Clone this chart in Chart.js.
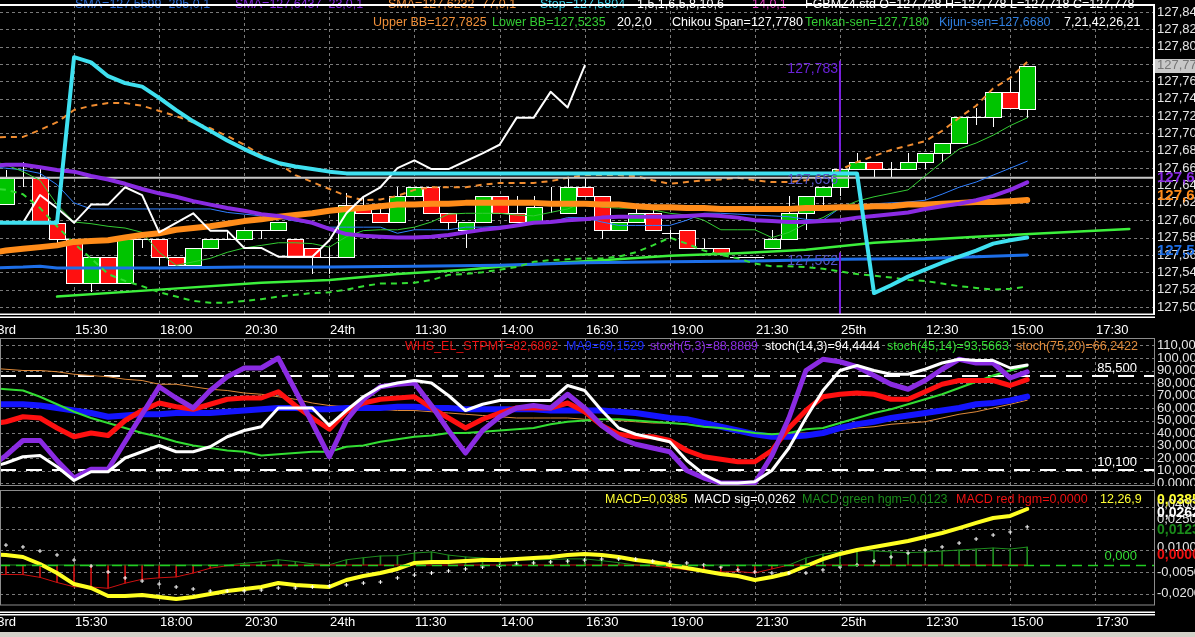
<!DOCTYPE html>
<html>
<head>
<meta charset="utf-8">
<title>FGBMZ4.std</title>
<script src="https://cdn.jsdelivr.net/npm/chart.js@4.4.1/dist/chart.umd.min.js"></script>
<style>
  html, body { margin:0; padding:0; background:#000; overflow:hidden; }
  #wrap { position:relative; width:1195px; height:637px; background:#000; }
  #wrap canvas { position:absolute; left:0; }
  #strip { position:absolute; left:0; top:632px; width:1195px; height:5px; background:#d4d0c8; }
</style>
</head>
<body>
<div id="wrap">
  <canvas id="cMain" width="1195" height="338" style="top:0px;width:1195px;height:338px"></canvas>
  <canvas id="cStoch" width="1195" height="148" style="top:338px;width:1195px;height:148px"></canvas>
  <canvas id="cMacd" width="1195" height="147" style="top:490px;width:1195px;height:147px"></canvas>
  <div id="strip"></div>
</div>
<script>
// ---------------- categories / ticks ----------------
const barNo = [-5,-4,-3,-2,-1,0,1,2,3,4,5,6,7,8,9,10,11,12,13,14,15,16,17,18,19,20,21,22,23,24,25,26,27,28,29,30,31,32,33,34,35,36,37,38,39,40,41,42,43,44,45,46,47,48,49,50,51,52,53,54,55,56];
const xTickBars = [-5,0,5,10,15,20,25,30,35,40,45,50,55,60];
const xTickLabels = ['23rd','15:30','18:00','20:30','24th','11:30','14:00','16:30','19:00','21:30','25th','12:30','15:00','17:30'];

const priceTicks = [127.84,127.82,127.80,127.78,127.76,127.74,127.72,127.70,127.68,127.66,127.64,127.62,127.60,127.58,127.56,127.54,127.52,127.50];
const priceTickLabels = ['127,84','127,82','127,80','127,78','127,76','127,74','127,72','127,70','127,68','127,66','127,64','127,62','127,60','127,58','127,56','127,54','127,52','127,50'];
const stochTicks = [110,100,90,80,70,60,50,40,30,20,10,0];
const stochTickLabels = ['110,000','100,000','90,000','80,000','70,000','60,000','50,000','40,000','30,000','20,000','10,000','0,0000'];
const macdTicks = [0.04,0.025,0.01,-0.005,-0.02];
const macdTickLabels = ['0,0400','0,0250','0,0100','-0,0050','-0,0200'];

// ---------------- candles (bar -5 not visible) ----------------
const open  = [null,127.619,127.649,127.649,127.597,127.578,127.528,127.558,127.528,127.578,127.578,127.558,127.548,127.568,127.578,127.578,127.589,127.589,127.578,127.568,127.558,127.558,127.618,127.608,127.598,127.628,127.638,127.608,127.589,127.598,127.628,127.608,127.598,127.618,127.608,127.638,127.628,127.589,127.598,127.608,127.585,127.589,127.568,127.568,127.558,127.558,127.568,127.578,127.608,127.628,127.638,127.659,127.667,127.659,127.659,127.667,127.677,127.689,127.719,127.719,127.748,127.728];
const high  = [null,127.658,127.667,127.660,127.597,127.578,127.558,127.558,127.578,127.578,127.578,127.558,127.568,127.578,127.588,127.589,127.589,127.598,127.578,127.568,127.569,127.631,127.627,127.618,127.638,127.638,127.638,127.608,127.598,127.628,127.628,127.628,127.628,127.638,127.649,127.649,127.628,127.598,127.618,127.618,127.589,127.589,127.578,127.568,127.558,127.558,127.589,127.628,127.628,127.638,127.659,127.678,127.667,127.667,127.678,127.677,127.689,127.719,127.729,127.748,127.763,127.778];
const low   = [null,127.619,127.638,127.597,127.568,127.528,127.517,127.528,127.528,127.568,127.548,127.548,127.548,127.568,127.578,127.578,127.578,127.589,127.558,127.538,127.538,127.558,127.608,127.598,127.598,127.628,127.608,127.589,127.568,127.598,127.608,127.598,127.598,127.608,127.608,127.628,127.578,127.589,127.598,127.589,127.578,127.568,127.568,127.562,127.558,127.558,127.568,127.578,127.589,127.618,127.628,127.659,127.650,127.650,127.659,127.659,127.667,127.689,127.710,127.707,127.729,127.718];
const close = [null,127.649,127.649,127.597,127.578,127.528,127.558,127.528,127.578,127.578,127.558,127.548,127.568,127.578,127.578,127.589,127.589,127.598,127.558,127.558,127.558,127.618,127.608,127.598,127.628,127.638,127.608,127.598,127.598,127.628,127.608,127.598,127.615,127.618,127.638,127.628,127.589,127.598,127.608,127.589,127.585,127.568,127.568,127.562,127.558,127.558,127.578,127.608,127.628,127.638,127.659,127.667,127.659,127.659,127.667,127.677,127.689,127.719,127.719,127.748,127.729,127.778];

// ---------------- price-pane indicators ----------------
const stopLine = [127.597,127.597,127.597,127.597,127.597,127.788,127.782,127.766,127.758,127.754,127.741,127.727,127.714,127.703,127.692,127.682,127.673,127.666,127.662,127.659,127.656,127.654,127.654,127.654,127.654,127.654,127.654,127.654,127.654,127.654,127.654,127.654,127.654,127.654,127.654,127.654,127.654,127.654,127.654,127.654,127.654,127.654,127.654,127.654,127.654,127.654,127.654,127.654,127.654,127.654,127.654,127.654,127.516,127.525,127.535,127.543,127.551,127.558,127.565,127.573,127.577,127.580];
const upperBB = [127.695,127.696,127.696,127.704,127.713,127.727,127.732,127.735,127.735,127.732,127.726,127.720,127.713,127.706,127.697,127.687,127.675,127.666,127.652,127.644,127.636,127.628,127.623,127.624,127.628,127.635,127.638,127.638,127.638,127.641,127.643,127.643,127.643,127.645,127.649,127.652,127.652,127.652,127.651,127.646,127.642,127.644,127.646,127.647,127.649,127.646,127.644,127.644,127.646,127.651,127.658,127.667,127.674,127.681,127.686,127.691,127.703,127.718,127.732,127.752,127.764,127.7825];
const lowerBB = [127.637,127.635,127.630,127.614,127.593,127.573,127.556,127.538,127.530,127.524,127.517,127.512,127.507,127.505,127.505,127.507,127.509,127.512,127.514,127.516,127.517,127.520,127.524,127.527,127.527,127.528,127.531,127.537,127.538,127.540,127.543,127.546,127.552,127.554,127.555,127.556,127.556,127.558,127.563,127.571,127.580,127.573,127.565,127.560,127.556,127.550,127.547,127.547,127.546,127.544,127.541,127.538,127.536,127.534,127.531,127.530,127.527,127.524,127.522,127.520,127.521,127.5235];
const sma77 = [127.562,127.565,127.567,127.569,127.571,127.575,127.576,127.577,127.580,127.583,127.585,127.589,127.591,127.593,127.596,127.599,127.601,127.604,127.606,127.608,127.611,127.613,127.614,127.616,127.618,127.618,127.619,127.619,127.620,127.620,127.620,127.620,127.620,127.619,127.619,127.619,127.618,127.618,127.616,127.615,127.615,127.614,127.614,127.613,127.613,127.613,127.613,127.613,127.614,127.614,127.615,127.615,127.616,127.616,127.618,127.618,127.619,127.620,127.621,127.621,127.622,127.6232];
const sma23 = [127.662,127.664,127.664,127.661,127.658,127.656,127.651,127.647,127.642,127.636,127.631,127.627,127.622,127.618,127.614,127.611,127.607,127.605,127.601,127.597,127.590,127.584,127.582,127.581,127.580,127.580,127.581,127.583,127.586,127.589,127.591,127.594,127.597,127.598,127.600,127.601,127.603,127.604,127.604,127.604,127.604,127.605,127.606,127.605,127.603,127.600,127.599,127.598,127.598,127.599,127.600,127.603,127.605,127.607,127.609,127.613,127.616,127.619,127.623,127.628,127.635,127.6437];
const sma295Bars = [-5,-3,-2,-1,0,5,10,15,20,25,30,35,40,45,50,56];
const sma295 = [127.545,127.546,127.547,127.545,127.545,127.545,127.546,127.546,127.547,127.548,127.551,127.552,127.553,127.555,127.556,127.5599];
const kijun = [127.662,127.660,127.658,127.654,127.641,127.620,127.613,127.613,127.613,127.613,127.613,127.613,127.613,127.613,127.609,127.607,127.605,127.603,127.599,127.596,127.592,127.592,127.592,127.592,127.585,127.589,127.589,127.589,127.592,127.592,127.593,127.594,127.596,127.598,127.603,127.603,127.598,127.594,127.594,127.594,127.594,127.600,127.608,127.608,127.607,127.606,127.605,127.604,127.601,127.600,127.614,127.616,127.619,127.620,127.621,127.623,127.630,127.638,127.644,127.652,127.660,127.668];
const tenkan = [127.669,127.664,127.656,127.646,127.618,127.598,127.596,127.593,127.591,127.586,127.563,127.548,127.552,127.556,127.563,127.568,127.571,127.574,127.574,127.573,127.569,127.581,127.588,127.589,127.589,127.592,127.598,127.607,127.608,127.608,127.608,127.606,127.605,127.609,127.613,127.621,127.615,127.614,127.614,127.612,127.608,127.606,127.600,127.589,127.589,127.589,127.580,127.586,127.596,127.603,127.614,127.622,127.627,127.631,127.635,127.651,127.667,127.682,127.689,127.698,127.709,127.718];
const chikouBars = [-5,-4,-3,-2,-1,0,1,2,3,4,5,6,7,8,9,10,11,12,13,14,15,16,17,18,19,20,21,22,23,24,25,26,27,28,29,30];
const chikou = [127.597,127.597,127.597,127.629,127.614,127.597,127.618,127.618,127.638,127.629,127.586,127.597,127.608,127.588,127.588,127.568,127.568,127.558,127.558,127.558,127.577,127.608,127.627,127.638,127.660,127.669,127.659,127.659,127.668,127.677,127.687,127.718,127.718,127.748,127.730,127.778];
const senkouBars = [-1,5,11,15,19,23,26,31,35,39,43,47,53,57,62];
const senkou = [127.512,127.520,127.528,127.531,127.538,127.543,127.548,127.554,127.559,127.562,127.566,127.574,127.581,127.585,127.590];
const levelBars = [-5,64];
const levelPrice = [127.649,127.649];
const measureBar = [45,45];
const measureUpper = [127.783,127.656];
const measureLower = [127.562,127.490];

// ---------------- stochastic pane ----------------
const stoch5  = [12,22,34,34,18,4,11,11,33,55,77,68,60,74,85,92,92,100,74,48,21,50,67,77,79,80,62,42,24,42,53,60,62,60,71,60,46,36,31,28,25,10,4,0,0,0,22,52,90,99,97,93,86,79,75,82,91,99,96,96,84,88.89];
const stoch14 = [12,16,21,22,13,2,9,9,20,25,30,25,25,29,37,42,45,60,60,60,46,58,69,77,80,82,80,70,58,63,66,66,66,66,78,74,58,44,39,36,33,18,7,0,0,1,10,28,52,74,90,94,90,87,87,91,96,99,98,98,92,94.44];
const whs     = [47,49,53,52,44,37,40,38,50,58,64,61,59,63,67,68,68,73,62,52,43,57,64,67,68,69,60,52,44,51,56,60,60,60,64,57,46,39,37,37,34,26,21,19,17,17,26,44,58,69,71,72,71,67,67,73,79,82,82,82,78,82.68];
const ma9     = [63,63,63,62,60,58,56,53,54,55,55,56,56,56,57,58,59,60,60,59,59,60,60,60,61,61,60,60,59,59,59,59,59,58,58,58,58,57,56,54,52,51,48,45,42,39,37,37,38,40,44,47,49,52,54,56,58,60,63,64,66,69.15];
const stoch45 = [76,75,74,69,63,57,52,48,44,40,37,33,30,28,26,25,22,23,24,25,25,29,30,33,35,37,38,40,40,41,42,43,44,47,49,50,51,51,50,49,48,47,45,44,42,40,39,40,43,44,48,52,56,59,63,67,71,76,81,86,90,93.57];
const stoch75 = [92,91,90,90,89,87,86,85,83,82,79,79,77,75,74,72,71,69,67,64,62,61,60,59,58,58,57,56,55,54,53,52,52,52,52,51,51,50,49,48,48,47,45,44,42,40,39,40,40,41,42,44,45,47,48,49,52,55,57,60,63,66.24];
const stochLevels = [85.5,10.1];
const stochLevelLabels = ['85,500','10,100'];

// ---------------- MACD pane ----------------
const macd = [0.0075,0.0069,0.0055,0.0007,-0.0055,-0.0131,-0.0158,-0.0213,-0.0213,-0.0206,-0.0220,-0.0234,-0.0220,-0.0199,-0.0179,-0.0165,-0.0151,-0.0124,-0.0137,-0.0144,-0.0151,-0.0103,-0.0076,-0.0055,-0.0027,0.0014,0.0021,0.0021,0.0027,0.0034,0.0034,0.0041,0.0048,0.0055,0.0069,0.0076,0.0069,0.0055,0.0034,0.0021,0.0000,-0.0021,-0.0041,-0.0062,-0.0076,-0.0103,-0.0082,-0.0055,-0.0007,0.0041,0.0076,0.0103,0.0124,0.0144,0.0165,0.0192,0.0220,0.0254,0.0289,0.0323,0.0337,0.0385];
const macdSig = [0.0145,0.0137,0.0124,0.0096,0.0069,0.0034,-0.0007,-0.0048,-0.0089,-0.0110,-0.0131,-0.0151,-0.0165,-0.0179,-0.0179,-0.0179,-0.0172,-0.0158,-0.0158,-0.0151,-0.0144,-0.0137,-0.0124,-0.0117,-0.0089,-0.0069,-0.0055,-0.0041,-0.0027,-0.0014,-0.0007,0.0007,0.0014,0.0021,0.0027,0.0034,0.0041,0.0041,0.0041,0.0027,0.0021,0.0014,0.0000,-0.0014,-0.0034,-0.0048,-0.0055,-0.0055,-0.0055,-0.0034,-0.0014,0.0000,0.0027,0.0055,0.0082,0.0103,0.0124,0.0151,0.0179,0.0206,0.0227,0.0262];
const macdHist = [-0.0066,-0.0065,-0.0066,-0.0085,-0.0120,-0.0150,-0.0151,-0.0160,-0.0125,-0.0098,-0.0088,-0.0082,-0.0055,-0.0022,-0.0005,0.0012,0.0022,0.0036,0.0024,0.0008,0.0002,0.0036,0.0050,0.0062,0.0064,0.0082,0.0090,0.0068,0.0056,0.0048,0.0041,0.0036,0.0036,0.0038,0.0042,0.0042,0.0030,0.0016,0.0000,-0.0006,-0.0020,-0.0033,-0.0041,-0.0048,-0.0045,-0.0055,-0.0027,0.0000,0.0048,0.0075,0.0090,0.0100,0.0097,0.0090,0.0085,0.0089,0.0096,0.0103,0.0110,0.0117,0.0110,0.0123];

// ---------------- texts ----------------
const legendMain1 = [
  {t:'SMA=127,5599  295,0,1', c:'#2f6fd6', x:75},
  {t:'SMA=127,6437  23,0,1', c:'#8a2be2', x:235},
  {t:'SMA=127,6232  77,0,1', c:'#f0903a', x:388},
  {t:'Stop=127,5804', c:'#3fd0e8', x:540},
  {t:'1,5,1,6,5,8,10,6', c:'#ffffff', x:637},
  {t:'14,0,1', c:'#e040c0', x:752},
  {t:'FGBMZ4.std O=127,728 H=127,778 L=127,718 C=127,778', c:'#ffffff', x:805}
];
const legendMain2 = [
  {t:'Upper BB=127,7825', c:'#f0903a', x:373},
  {t:'Lower BB=127,5235', c:'#33cc33', x:492},
  {t:'20,2,0', c:'#ffffff', x:617},
  {t:'Chikou Span=127,7780', c:'#ffffff', x:672},
  {t:'Tenkan-sen=127,7180', c:'#33cc33', x:805},
  {t:'Kijun-sen=127,6680', c:'#2f7fe0', x:939},
  {t:'7,21,42,26,21', c:'#ffffff', x:1064}
];
const legendStoch = [
  {t:'WHS_EL_STPMT=82,6802', c:'#ee1111', x:405},
  {t:'MA9=69,1529', c:'#1a2cff', x:566},
  {t:'stoch(5,3)=88,8889', c:'#8a2be2', x:650},
  {t:'stoch(14,3)=94,4444', c:'#ffffff', x:765},
  {t:'stoch(45,14)=93,5663', c:'#33dd33', x:887},
  {t:'stoch(75,20)=66,2422', c:'#e08a3a', x:1016}
];
const legendMacd = [
  {t:'MACD=0,0385', c:'#ffff33', x:605},
  {t:'MACD sig=0,0262', c:'#ffffff', x:694},
  {t:'MACD green hgm=0,0123', c:'#1a8a1a', x:802},
  {t:'MACD red hgm=0,0000', c:'#ee1111', x:956},
  {t:'12,26,9', c:'#ffff33', x:1100}
];

// ---------------- helpers ----------------
const FONT = "'Liberation Sans', Arial, Helvetica, sans-serif";
Chart.defaults.font.family = FONT;
Chart.defaults.font.size = 13;
Chart.defaults.color = '#e6e6e6';
const X_MIN = -4.35, X_MAX = 63.45;
const last = a => a[a.length - 1];
const fmt = (v, d) => v.toFixed(d).replace('.', ',');

function xy(xs, ys) { return xs.map((x, i) => ({x: x, y: ys[i]})); }
function line(data, color, width, opt) {
  return Object.assign({type:'line', data: data, borderColor: color, backgroundColor: color, borderWidth: width,
    pointRadius: 0, pointHoverRadius: 0, fill: false, tension: 0, borderJoinStyle: 'round', borderCapStyle: 'round'}, opt || {});
}
function ordered(list) { list.forEach((d, i) => { d.order = list.length - i; }); return list; }
function xScale(h) {
  return {type:'linear', min: X_MIN, max: X_MAX, offset: false, display: true,
    grid: {display: false, drawTicks: false}, border: {display: false}, ticks: {display: false},
    afterFit(s) { s.height = h; s.paddingLeft = 0; s.paddingRight = 0; }};
}
function yScale(min, max, vals, labels, show) {
  return {type:'linear', position:'right', min: min, max: max,
    grid: {display: false, drawTicks: false}, border: {display: false},
    afterBuildTicks(s) { s.ticks = vals.map(v => ({value: v})); },
    afterFit(s) { s.width = 41; s.paddingTop = 0; s.paddingBottom = 0; },
    ticks: {display: show, autoSkip: false, padding: 3, color: '#e6e6e6', font: {size: 13},
      callback: (v, i) => labels[i]}};
}
function gridPlugin(yVals) {
  return {id: 'dashGrid', beforeDatasetsDraw(chart) {
    const {ctx, chartArea: a, scales: {x, y}} = chart;
    ctx.save();
    ctx.beginPath(); ctx.rect(a.left, a.top, a.right - a.left, a.bottom - a.top); ctx.clip();
    ctx.strokeStyle = '#7a7a7a'; ctx.lineWidth = 1; ctx.setLineDash([3, 3]);
    ctx.beginPath();
    xTickBars.forEach(k => { const px = Math.round(x.getPixelForValue(k)) + 0.5; ctx.moveTo(px, a.top); ctx.lineTo(px, a.bottom); });
    yVals.forEach(v => { const py = Math.round(y.getPixelForValue(v)) + 0.5; ctx.moveTo(a.left, py); ctx.lineTo(a.right, py); });
    ctx.stroke();
    ctx.restore();
  }};
}
function drawLegend(ctx, items, y, base) {
  ctx.font = '12.5px ' + FONT; ctx.textAlign = 'left'; ctx.textBaseline = base || 'middle';
  items.forEach(it => { ctx.fillStyle = it.c; ctx.fillText(it.t, it.x, y); });
}
function drawXLabels(chart, y) {
  const {ctx, scales: {x}} = chart;
  ctx.font = '13px ' + FONT; ctx.fillStyle = '#ffffff'; ctx.textAlign = 'left'; ctx.textBaseline = 'middle';
  xTickBars.forEach((k, i) => ctx.fillText(xTickLabels[i], Math.round(x.getPixelForValue(k)) + 1, y));
}

const common = {responsive: false, animation: false, events: [], devicePixelRatio: 1,
  plugins: {legend: {display: false}, tooltip: {enabled: false}}};

// ---------------- candles plugin ----------------
const candlePlugin = {id: 'candles', beforeDatasetsDraw(chart) {
  const {ctx, chartArea: a, scales: {x, y}} = chart;
  ctx.save();
  ctx.beginPath(); ctx.rect(a.left, a.top, a.right - a.left, a.bottom - a.top); ctx.clip();
  const half = 8;
  for (let i = 0; i < barNo.length; i++) {
    if (open[i] === null) continue;
    const cx = Math.round(x.getPixelForValue(barNo[i]));
    const yo = y.getPixelForValue(open[i]), yc = y.getPixelForValue(close[i]);
    const yh = y.getPixelForValue(high[i]), yl = y.getPixelForValue(low[i]);
    ctx.strokeStyle = '#ffffff'; ctx.lineWidth = 1;
    ctx.beginPath(); ctx.moveTo(cx + 0.5, Math.round(yh)); ctx.lineTo(cx + 0.5, Math.round(yl)); ctx.stroke();
    const top = Math.round(Math.min(yo, yc)), bot = Math.round(Math.max(yo, yc));
    if (bot - top < 2) {
      ctx.beginPath(); ctx.moveTo(cx - half, top + 0.5); ctx.lineTo(cx + half + 1, top + 0.5); ctx.stroke();
    } else {
      ctx.fillStyle = close[i] > open[i] ? '#00c400' : '#ff1010';
      ctx.fillRect(cx - half, top, 2 * half + 1, bot - top);
      ctx.strokeRect(cx - half + 0.5, top + 0.5, 2 * half, bot - top);
    }
  }
  ctx.restore();
}};

// ---------------- main overlay ----------------
const mainOverlay = {id: 'mainOverlay', afterDraw(chart) {
  const {ctx, chartArea: a, scales: {x, y}} = chart;
  ctx.save();
  drawLegend(ctx, legendMain1, 8, 'alphabetic');
  ctx.fillStyle = '#ffffff';
  ctx.fillRect(0, 4, 1155, 2);
  ctx.fillRect(1153, 4, 2, a.bottom - 4);
  ctx.fillRect(0, a.bottom - 0.5, 1155, 1.5);
  ctx.fillRect(0, a.bottom + 2.5, 1155, 1.5);
  drawLegend(ctx, legendMain2, 23);
  // measure labels
  const mx = x.getPixelForValue(measureBar[0]) - 2;
  ctx.font = '14px ' + FONT; ctx.textAlign = 'right'; ctx.textBaseline = 'top';
  ctx.fillStyle = '#6a22d8'; ctx.fillText(fmt(measureUpper[0], 3), mx, y.getPixelForValue(measureUpper[0]) + 1);
  ctx.fillStyle = '#5656c8'; ctx.fillText(fmt(measureUpper[1], 3), mx, y.getPixelForValue(measureUpper[1]) + 1);
  ctx.fillText(fmt(measureLower[0], 3), mx, y.getPixelForValue(measureLower[0]) + 1);
  // right axis highlights
  const lc = last(close), py = y.getPixelForValue(lc);
  ctx.fillStyle = '#c8c8c8'; ctx.fillRect(1155, Math.round(py) - 7, 40, 14);
  ctx.fillStyle = '#767676'; ctx.font = '13px ' + FONT; ctx.textAlign = 'left'; ctx.textBaseline = 'middle';
  ctx.fillText(fmt(lc, 3), 1157, py);
  ctx.font = 'bold 15px ' + FONT; ctx.textBaseline = 'bottom';
  [[last(sma23), '#8a2be2'], [last(sma77), '#ff8c1a'], [last(sma295), '#1e6fe8']].forEach(p => {
    ctx.fillStyle = p[1]; ctx.fillText(fmt(p[0], 4), 1157, y.getPixelForValue(p[0]) + 3);
  });
  drawXLabels(chart, 330);
  ctx.restore();
}};

new Chart(document.getElementById('cMain'), {
  type: 'line',
  data: {datasets: ordered([
    line(xy(senkouBars, senkou), '#3cf03c', 2.5),
    line(xy(sma295Bars, sma295), '#1e6fe8', 3),
    line(xy(barNo, lowerBB), '#33dd33', 2, {borderDash: [6, 5], borderCapStyle: 'butt'}),
    line(xy(barNo, upperBB), '#f08c30', 2, {borderDash: [6, 5], borderCapStyle: 'butt'}),
    line(xy(levelBars, levelPrice), '#c8c8c8', 2, {borderCapStyle: 'butt'}),
    line(xy(measureBar, measureUpper), '#7a1fe0', 2, {borderCapStyle: 'butt'}),
    line(xy(measureBar, measureLower), '#7a1fe0', 2, {borderCapStyle: 'butt'}),
    line(xy(barNo, kijun), '#2f7fff', 1),
    line(xy(barNo, tenkan), '#33cc33', 1),
    line(xy(barNo, sma77), '#ff8c1a', 6),
    line(xy(barNo, sma23), '#8a2be2', 4),
    line(xy(chikouBars, chikou), '#ffffff', 2),
    line(xy(barNo, stopLine), '#3fe0f0', 4)
  ])},
  options: Object.assign({}, common, {
    layout: {autoPadding: false, padding: {top: 5, left: 0, right: 0, bottom: 0}},
    scales: {x: xScale(24), y: yScale(127.4919, 127.8481, priceTicks, priceTickLabels, true)}
  }),
  plugins: [gridPlugin(priceTicks), candlePlugin, mainOverlay]
});

// ---------------- stochastic chart ----------------
const stochLevelsPlugin = {id: 'levels', beforeDatasetsDraw(chart) {
  const {ctx, chartArea: a, scales: {y}} = chart;
  ctx.save();
  ctx.strokeStyle = '#ffffff'; ctx.lineWidth = 2; ctx.setLineDash([16, 10]);
  stochLevels.forEach(v => { const py = Math.round(y.getPixelForValue(v)); ctx.beginPath(); ctx.moveTo(a.left, py); ctx.lineTo(a.right, py); ctx.stroke(); });
  ctx.restore();
}, afterDraw(chart) {
  const {ctx, chartArea: a, scales: {y}} = chart;
  ctx.save();
  drawLegend(ctx, legendStoch, 9);
  ctx.font = '13px ' + FONT; ctx.fillStyle = '#ffffff'; ctx.textAlign = 'right'; ctx.textBaseline = 'bottom';
  stochLevels.forEach((v, i) => ctx.fillText(stochLevelLabels[i], 1137, y.getPixelForValue(v) - 1));
  ctx.strokeStyle = '#8c8c8c'; ctx.lineWidth = 1; ctx.setLineDash([]);
  ctx.strokeRect(0.5, 0.5, 1154, a.bottom - 1);
  ctx.restore();
}};

new Chart(document.getElementById('cStoch'), {
  type: 'line',
  data: {datasets: ordered([
    line(xy(barNo, stoch75), '#e08a3a', 1),
    line(xy(barNo, ma9), '#1414ff', 6),
    line(xy(barNo, stoch45), '#33dd33', 2),
    line(xy(barNo, whs), '#ff1010', 5),
    line(xy(barNo, stoch5), '#8a2be2', 5),
    line(xy(barNo, stoch14), '#ffffff', 3)
  ])},
  options: Object.assign({}, common, {
    layout: {autoPadding: false, padding: 0},
    scales: {x: xScale(0), y: yScale(-2.4, 116, stochTicks, stochTickLabels, true)}
  }),
  plugins: [gridPlugin(stochTicks), stochLevelsPlugin]
});

// ---------------- MACD chart ----------------
const histGreen = macdHist.map(v => v > 0 ? v : 0);
const histRed = macdHist.map(v => v < 0 ? v : 0);
const macdAxisNudge = [-2, -9, -3, 0, -1];
const macdMarks = [
  {v: last(macd), c: '#ffff33', d: -9},
  {v: last(macdSig), c: '#ffffff', d: -14},
  {v: last(histGreen), c: '#1a8a1a', d: -17},
  {v: 0, c: '#ee1111', d: -10}
];
const macdOverlay = {id: 'macdOverlay', afterDatasetsDraw(chart) {
  const {ctx, chartArea: a, scales: {y}} = chart;
  ctx.save();
  ctx.strokeStyle = '#22cc22'; ctx.lineWidth = 1.5; ctx.setLineDash([10, 6]);
  const py = Math.round(y.getPixelForValue(0)) + 0.5;
  ctx.beginPath(); ctx.moveTo(a.left, py); ctx.lineTo(a.right, py); ctx.stroke();
  ctx.restore();
}, afterDraw(chart) {
  const {ctx, chartArea: a, scales: {y}} = chart;
  ctx.save();
  drawLegend(ctx, legendMacd, 10);
  ctx.strokeStyle = '#8c8c8c'; ctx.lineWidth = 1;
  ctx.strokeRect(0.5, 0.5, 1154, a.bottom - 0.5);
  ctx.fillStyle = '#ffffff';
  ctx.fillRect(0, a.bottom + 6.5, 1155, 1.5);
  ctx.fillRect(0, a.bottom + 9, 1155, 1.5);
  // right axis labels
  ctx.font = '13px ' + FONT; ctx.textAlign = 'left'; ctx.textBaseline = 'middle'; ctx.fillStyle = '#e6e6e6';
  macdTicks.forEach((v, i) => ctx.fillText(macdTickLabels[i], 1157, y.getPixelForValue(v) + macdAxisNudge[i]));
  ctx.font = 'bold 14px ' + FONT;
  macdMarks.forEach(m => { ctx.fillStyle = m.c; ctx.fillText(fmt(m.v, 4), 1157, y.getPixelForValue(m.v) + m.d); });
  ctx.font = '13px ' + FONT; ctx.fillStyle = '#33dd33'; ctx.textAlign = 'right'; ctx.textBaseline = 'bottom';
  ctx.fillText('0,000', 1137, y.getPixelForValue(0) - 2);
  drawXLabels(chart, 132);
  ctx.restore();
}};

new Chart(document.getElementById('cMacd'), {
  type: 'line',
  data: {datasets: ordered([
    {type: 'bar', data: xy(barNo, macdHist), barThickness: 1, borderWidth: 0,
      backgroundColor: c => (c.raw && c.raw.y < 0) ? '#cc1111' : '#1e8c1e'},
    line(xy(barNo, histGreen), '#1e8c1e', 1),
    line(xy(barNo, histRed), '#cc1111', 1),
    line(xy(barNo, macd), '#ffff22', 4),
    line(xy(barNo.slice(1), macdSig.slice(1)), '#ffffff', 1, {showLine: false, pointStyle: 'cross', pointRadius: 2, pointBorderColor: '#ffffff', pointBorderWidth: 1})
  ])},
  options: Object.assign({}, common, {
    layout: {autoPadding: false, padding: 0},
    scales: {x: xScale(32), y: yScale(-0.02749, 0.05155, macdTicks, macdTickLabels, false)}
  }),
  plugins: [gridPlugin(macdTicks), macdOverlay]
});
</script>
</body>
</html>
